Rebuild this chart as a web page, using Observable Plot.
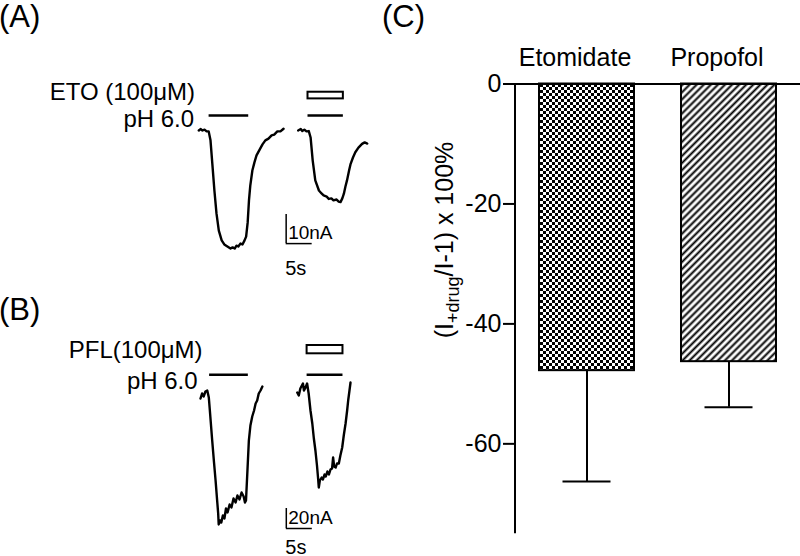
<!DOCTYPE html>
<html><head><meta charset="utf-8">
<script src="https://cdn.jsdelivr.net/npm/d3@7"></script>
<script src="https://cdn.jsdelivr.net/npm/@observablehq/plot@0.6"></script>
<style>
body{margin:0;background:#fff;}
#root{position:relative;width:800px;height:556px;background:#fff;font-family:"Liberation Sans",Arial,sans-serif;overflow:hidden;color:#000}
#root svg{position:absolute;left:0;top:0}
.panel{position:absolute;font-size:31px;line-height:31px;white-space:nowrap}
</style></head><body><div id="root"></div>
<script>
// ---------- Panel C data ----------
const drugs = ["Etomidate", "Propofol"];
const meanInhibition = [-47.8, -46.3];
const sdInhibition = [18.5, 7.6];
const yTicks = [0, -20, -40, -60];

// ---------- Panel A traces (time s, current nA) ----------
const etoCtrlT = [0,0.33,0.7,1.1,1.5,1.9,2.25,2.6,3.0,3.4,3.85,4.4,4.9,5.5,6.1,6.5,6.9,7.25,7.6,8.0,8.4,8.8,9.1,9.4,9.65,9.9,10.3,10.7,11.1,11.7,12.25,12.8,13.4,14,14.5,15.1,15.7,16.3];
const etoCtrlI = [0,0.5,0,0.3,-0.3,-0.3,-3.4,-11.4,-20.7,-28.6,-34.5,-37.9,-39.3,-40,-40.7,-40.3,-40.7,-39.7,-40,-39,-39.3,-37.9,-36.6,-31.7,-24.1,-19,-13.8,-11,-8.6,-6.6,-4.8,-3.4,-2.8,-1.7,-1.4,-0.3,-0.3,0.6];
const etoDrugT = [19.1,19.6,19.9,20.3,20.7,21.15,21.5,21.9,22.4,23.1,23.6,24.0,24.6,25,25.5,25.9,26.5,26.9,27.25,27.6,27.9,28.2,28.5,28.9,29.2,29.65,30.1,30.7,31.4,31.9,32.4];
const etoDrugI = [0,0.5,-0.2,0.3,-0.3,-0.2,-2.4,-10.3,-17.2,-20.7,-21.7,-22.4,-22.8,-23.6,-23.4,-24.1,-23.8,-24.5,-24.7,-23.4,-21.8,-19.3,-17.2,-13.8,-11.5,-9.3,-7.5,-5.9,-4.6,-4.1,-4.5];
const etoPH = [[1.98, 9.6], [21.0, 27.8]];
const etoApp = [[21.0, 27.8]];
const etoScale = {t: 16.8, dur: 5, amp: 10};

// ---------- Panel B traces ----------
const pflCtrlT = [0,0.3,0.6,0.95,1.3,1.6,1.8,2.25,2.6,2.9,3.2,3.4,3.5,3.75,4.0,4.3,4.6,4.9,5.2,5.6,5.95,6.35,6.75,7.1,7.5,7.9,8.3,8.55,8.75,9.0,9.3,9.6,9.95,10.3,10.6,10.9,11.2,11.55,11.9];
const pflCtrlI = [-2,3,0,5,6,-1,-14,-44,-66,-84,-104,-117,-128,-124,-126,-119,-122,-112,-116,-108,-111,-102,-106,-99,-103,-96,-100,-106,-104,-77,-44,-29,-20,-14,-7,-4,3,6,10];
const pflDrugT = [18.6,18.9,19.2,19.7,19.9,20.2,20.5,20.8,21.15,21.5,21.8,22.1,22.4,22.6,22.75,22.95,23.3,23.55,23.85,24.1,24.4,24.7,25,25.3,25.5,25.7,26,26.25,26.6,26.9,27.25,27.55,27.9,28.2,28.4,28.65,28.85];
const pflDrugI = [4,1,8,13,6,9,13,3,-14,-27,-42,-54,-69,-81,-91,-84,-81,-83,-78,-80,-75,-78,-73,-72,-61,-70,-71,-67,-67,-59,-51,-39,-27,-14,-4,6,14];
const pflPH = [[1.75, 9.2], [20.5, 27.4]];
const pflApp = [[20.5, 27.4]];
const pflScale = {t: 16.5, dur: 5, amp: 20};

const FONT = '"Liberation Sans", Arial, sans-serif';
const root = document.getElementById("root");
const zip = (T, I) => T.map((t, i) => ({t, i: I[i]}));

// ---------- Panel C ----------
const barData = drugs.map((d, k) => ({drug: d, mean: meanInhibition[k], low: meanInhibition[k] - sdInhibition[k]}));
const defsMark = () => {
  const defs = d3.create("svg:defs");
  const p = defs.append("pattern").attr("id", "checker").attr("width", 6).attr("height", 6).attr("patternUnits", "userSpaceOnUse");
  p.append("rect").attr("width", 6).attr("height", 6).attr("fill", "white");
  p.append("rect").attr("width", 3).attr("height", 3).attr("fill", "black");
  p.append("rect").attr("x", 3).attr("y", 3).attr("width", 3).attr("height", 3).attr("fill", "black");
  const h = defs.append("pattern").attr("id", "hatch").attr("width", 5).attr("height", 5).attr("patternUnits", "userSpaceOnUse").attr("patternTransform", "rotate(45)");
  h.append("rect").attr("width", 5).attr("height", 5).attr("fill", "white");
  h.append("line").attr("x1", 2.5).attr("y1", -1).attr("x2", 2.5).attr("y2", 6).attr("stroke", "black").attr("stroke-width", 2);
  return defs.node();
};
const axisLine = (index, scales, values, dims) =>
  d3.create("svg:line")
    .attr("x1", dims.marginLeft).attr("x2", dims.marginLeft)
    .attr("y1", scales.y(0)).attr("y2", dims.height - dims.marginBottom)
    .attr("stroke", "black").attr("stroke-width", 2).node();
const yLabel = () => {
  const t = d3.create("svg:text")
    .attr("transform", "translate(453,240) rotate(-90)")
    .attr("text-anchor", "middle").attr("font-size", 25).attr("font-family", FONT).attr("fill", "black");
  t.append("tspan").text("(I");
  t.append("tspan").attr("font-size", 18).attr("dy", 6).text("+drug");
  t.append("tspan").attr("dy", -6).text("/I-1) x 100%");
  return t.node();
};

const plotC = Plot.plot({
  width: 800, height: 556,
  marginLeft: 515, marginRight: 0, marginTop: 83.5, marginBottom: 22.7,
  style: {background: "transparent", fontFamily: FONT, color: "black", overflow: "visible"},
  x: {type: "band", domain: drugs, paddingInner: 0.331, paddingOuter: 0.169, label: null, axis: null},
  y: {domain: [-75, 0], label: null, axis: null},
  marks: [
    defsMark,
    Plot.ruleX(barData, {x: "drug", y1: "mean", y2: "low", strokeWidth: 2, stroke: "black"}),
    Plot.tickY(barData, {x: "drug", y: "low", strokeWidth: 2, stroke: "black", insetLeft: 23.5, insetRight: 23.5}),
    Plot.barY(barData.filter(d => d.drug === drugs[0]), {x: "drug", y: "mean", fill: "url(#checker)", stroke: "black", strokeWidth: 2}),
    Plot.barY(barData.filter(d => d.drug === drugs[1]), {x: "drug", y: "mean", fill: "url(#hatch)", stroke: "black", strokeWidth: 2}),
    Plot.axisY({ticks: yTicks, tickSize: 12, tickPadding: 2, fontSize: 25, strokeWidth: 2, tickFormat: d => String(d), label: null}),
    Plot.ruleY([0], {strokeWidth: 2, stroke: "black"}),
    axisLine,
    Plot.axisX({anchor: "top", tickSize: 0, tickPadding: 18.5, fontSize: 25, dx: -12, label: null}),
    yLabel
  ]
});
root.appendChild(plotC);

// ---------- Trace panels ----------
function tracePanel({ctrl, drug, ph, app, sc, x0, pxPerS, y0, pxPerNA, ydom, appLabel, appDx, appDy, phDx, phDy, phLevel, appLow, appHigh, scBase, s5dy}) {
  const xr = [x0, x0 + 40 * pxPerS];
  const yr = [y0 - ydom[0] * pxPerNA, y0 - ydom[1] * pxPerNA];
  return Plot.plot({
    width: 800, height: 556, margin: 0,
    style: {background: "transparent", fontFamily: FONT, color: "black", overflow: "visible"},
    x: {domain: [0, 40], range: xr, axis: null},
    y: {domain: ydom, range: yr, axis: null},
    marks: [
      Plot.line(ctrl, {x: "t", y: "i", stroke: "black", strokeWidth: 2.4}),
      Plot.line(drug, {x: "t", y: "i", stroke: "black", strokeWidth: 2.4}),
      Plot.ruleY(ph, {x1: d => d[0], x2: d => d[1], y: phLevel, stroke: "black", strokeWidth: 2.5}),
      Plot.rect(app, {x1: d => d[0], x2: d => d[1], y1: appLow, y2: appHigh, fill: "white", stroke: "black", strokeWidth: 2}),
      Plot.text([ph[0]], {x: d => d[0], y: phLevel, text: () => "pH 6.0", textAnchor: "end", lineAnchor: "bottom", dx: phDx, dy: phDy, fontSize: 24, fill: "black"}),
      Plot.text([ph[0]], {x: d => d[0], y: phLevel, text: () => appLabel, textAnchor: "end", lineAnchor: "bottom", dx: appDx, dy: appDy, fontSize: 24, fill: "black"}),
      Plot.ruleX([sc], {x: "t", y1: scBase, y2: d => scBase + d.amp, stroke: "black", strokeWidth: 1.5}),
      Plot.ruleY([sc], {x1: "t", x2: d => d.t + d.dur, y: scBase, stroke: "black", strokeWidth: 1.5}),
      Plot.text([sc], {x: "t", y: scBase, text: d => d.amp + "nA", textAnchor: "start", lineAnchor: "bottom", dx: 2, dy: -5, fontSize: 19, fill: "black"}),
      Plot.text([sc], {x: "t", y: scBase, text: d => d.dur + "s", textAnchor: "start", lineAnchor: "bottom", dx: -1, dy: s5dy, fontSize: 20, fill: "black"})
    ]
  });
}

root.appendChild(tracePanel({
  ctrl: zip(etoCtrlT, etoCtrlI), drug: zip(etoDrugT, etoDrugI), ph: etoPH, app: etoApp, sc: etoScale,
  x0: 198.3, pxPerS: 5.2, y0: 130, pxPerNA: 2.9, ydom: [-50, 15],
  appLabel: "ETO (100μM)", appDx: -14, appDy: -15, phDx: -15, phDy: 12,
  phLevel: 5.2, appLow: 10.9, appHigh: 13.2, scBase: -39, s5dy: 31
}));
root.appendChild(tracePanel({
  ctrl: zip(pflCtrlT, pflCtrlI), drug: zip(pflDrugT, pflDrugI), ph: pflPH, app: pflApp, sc: pflScale,
  x0: 200, pxPerS: 5.2, y0: 396, pxPerNA: 1.0, ydom: [-160, 60],
  appLabel: "PFL(100μM)", appDx: -7, appDy: -17, phDx: -12, phDy: 14,
  phLevel: 21.7, appLow: 42.7, appHigh: 51, scBase: -132, s5dy: 25
}));

// ---------- Panel letters ----------
[["(A)", -1, 0.7], ["(B)", -1, 293.7], ["(C)", 382, 0.7]].forEach(([s, l, t]) => {
  const d = document.createElement("div");
  d.className = "panel"; d.textContent = s;
  d.style.left = l + "px"; d.style.top = t + "px";
  root.appendChild(d);
});
</script></body></html>
